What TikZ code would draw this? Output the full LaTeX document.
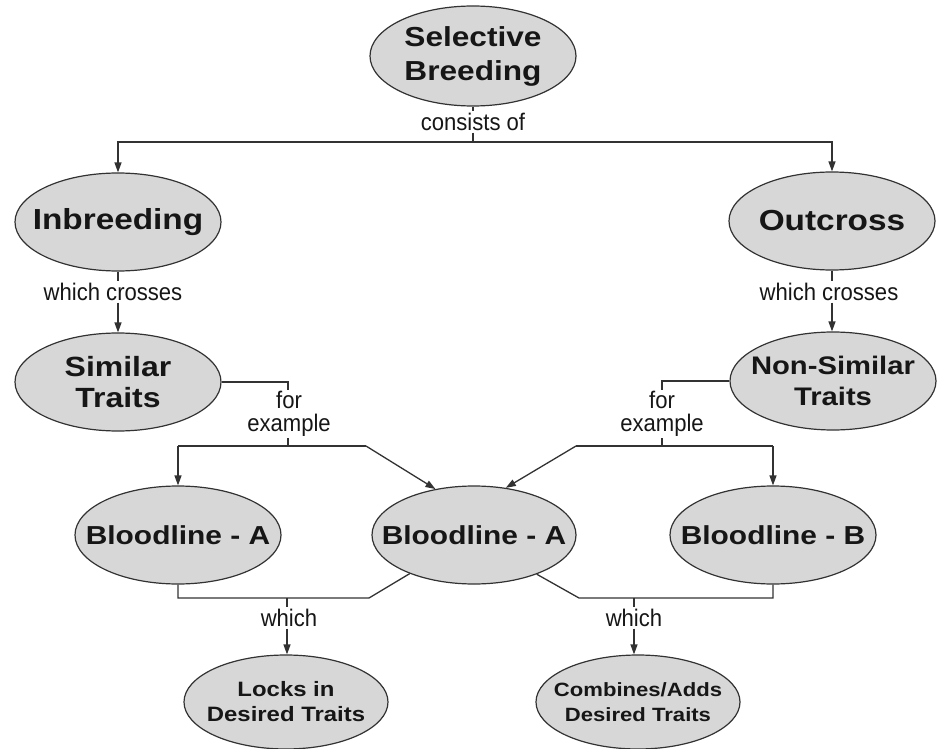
\documentclass[tikz,border=0pt]{standalone}
\usepackage{fontspec}
\setmainfont{Liberation Sans}[FakeStretch=1.15]
\newfontfamily\lblfont{Liberation Sans}[FakeStretch=0.92]
\usetikzlibrary{shapes.geometric,arrows.meta}
\definecolor{ellfill}{RGB}{215,215,215}
\definecolor{edge}{RGB}{50,50,50}
\definecolor{ink}{RGB}{22,22,22}
\begin{document}
\begin{tikzpicture}[x=1pt,y=-1pt,
  ell/.style={ellipse, draw=edge, line width=1.2pt, fill=ellfill, inner sep=0pt, minimum width=206pt, minimum height=98pt},
  etext/.style={align=center, text=ink, inner sep=0pt},
  lbl/.style={align=center, text=ink, inner sep=1.5pt, font=\lblfont\fontsize{24}{26}\selectfont},
  conn/.style={draw=edge, line width=1.3pt},
  arr/.style={conn, -{Triangle[length=10pt,width=7pt]}},
]
\useasboundingbox (0,0) rectangle (951,749);

% ellipses
\node[ell, minimum height=100pt] (sb) at (473,56) {};
\node[etext, font=\fontsize{27.5}{34}\selectfont\bfseries] (sbt) at (sb) {Selective\\Breeding};
\node[ell] (in) at (118,222) {};
\node[etext, font=\fontsize{29}{33}\selectfont\bfseries] (int) at (in) {Inbreeding};
\node[ell] (oc) at (832,221) {};
\node[etext, font=\fontsize{29}{33}\selectfont\bfseries] (oct) at (oc) {Outcross};
\node[ell] (st) at (118,382) {};
\node[etext, font=\fontsize{27.8}{31}\selectfont\bfseries] (stt) at (st) {Similar\\Traits};
\node[ell] (ns) at (833,381) {};
\node[etext, font=\fontsize{25.4}{31}\selectfont\bfseries] (nst) at (ns) {Non-Similar\\Traits};
\node[ell] (ba1) at (178,535) {};
\node[etext, font=\fontsize{26}{30}\selectfont\bfseries] (ba1t) at (ba1) {Bloodline - A};
\node[ell, minimum width=204pt] (ba2) at (474,535) {};
\node[etext, font=\fontsize{26}{30}\selectfont\bfseries] (ba2t) at (ba2) {Bloodline - A};
\node[ell] (bb) at (773,535) {};
\node[etext, font=\fontsize{26}{30}\selectfont\bfseries] (bbt) at (bb) {Bloodline - B};
\node[ell, minimum width=204pt, minimum height=94pt] (lk) at (286,702) {};
\node[etext, font=\fontsize{20.8}{25}\selectfont\bfseries] (lkt) at (lk) {Locks in\\Desired Traits};
\node[ell, minimum width=204pt, minimum height=94pt] (ca) at (638,702) {};
\node[etext, font=\fontsize{19.2}{25}\selectfont\bfseries] (cat) at (ca) {Combines/Adds\\Desired Traits};

% labels
\node[lbl] (l1) at (473,122) {consists of};
\node[lbl] (l2) at (113,292) {which crosses};
\node[lbl] (l3) at (829,292) {which crosses};
\node[lbl, font=\lblfont\fontsize{24}{23}\selectfont] (l4) at (289,414) {for\\example};
\node[lbl, font=\lblfont\fontsize{24}{23}\selectfont] (l5) at (662,414) {for\\example};
\node[lbl] (l6) at (289,618) {which};
\node[lbl] (l7) at (634,618) {which};

% junction coordinates
\coordinate (j1) at (473,142);
\coordinate (j2a) at (288,382);
\coordinate (j2) at (288,446);
\coordinate (b2l) at (178,446);
\coordinate (b2r) at (366,446);
\coordinate (j3a) at (662,381);
\coordinate (j3) at (662,446);
\coordinate (b3l) at (576,446);
\coordinate (b3r) at (773,446);
\coordinate (j4) at (287,598);
\coordinate (b4r) at (369,598);
\coordinate (j5) at (634,598);
\coordinate (b5l) at (579,598);

% top
\draw[conn] (sb.south) -- (sb.south |- l1.north);
\draw[conn] (sb.south |- l1.south) -- (j1);
\draw[arr] (j1) -| (in.north);
\draw[arr] (j1) -| (oc.north);

% which crosses
\draw[conn] (in.south) -- (in.south |- l2.north);
\draw[arr] (in.south |- l2.south) -- (st.north);
\draw[conn] (oc.south) -- (oc.south |- l3.north);
\draw[arr] (oc.south |- l3.south) -- (oc.south |- ns.north);

% for example, left
\draw[conn] (st.east |- j2a) -- (j2a) -- (j2a |- l4.north);
\draw[conn] (j2a |- l4.south) -- (j2);
\draw[conn] (b2l) -- (b2r);
\draw[arr] (b2l) -- (ba1.north);
\draw[arr] (b2r) -- (ba2.130);

% for example, right
\draw[conn] (ns.west |- j3a) -- (j3a) -- (j3a |- l5.north);
\draw[conn] (j3a |- l5.south) -- (j3);
\draw[conn] (b3l) -- (b3r);
\draw[arr] (b3r) -- (bb.north);
\draw[arr] (b3l) -- (ba2.56);

% which, left
\draw[conn] (ba1.south) |- (b4r) -- (ba2.211);
\draw[conn] (j4) -- (j4 |- l6.north);
\draw[arr] (j4 |- l6.south) -- (j4 |- lk.north);

% which, right
\draw[conn] (bb.south) |- (b5l) -- (ba2.328);
\draw[conn] (j5) -- (j5 |- l7.north);
\draw[arr] (j5 |- l7.south) -- (j5 |- ca.north);
\end{tikzpicture}
\end{document}
